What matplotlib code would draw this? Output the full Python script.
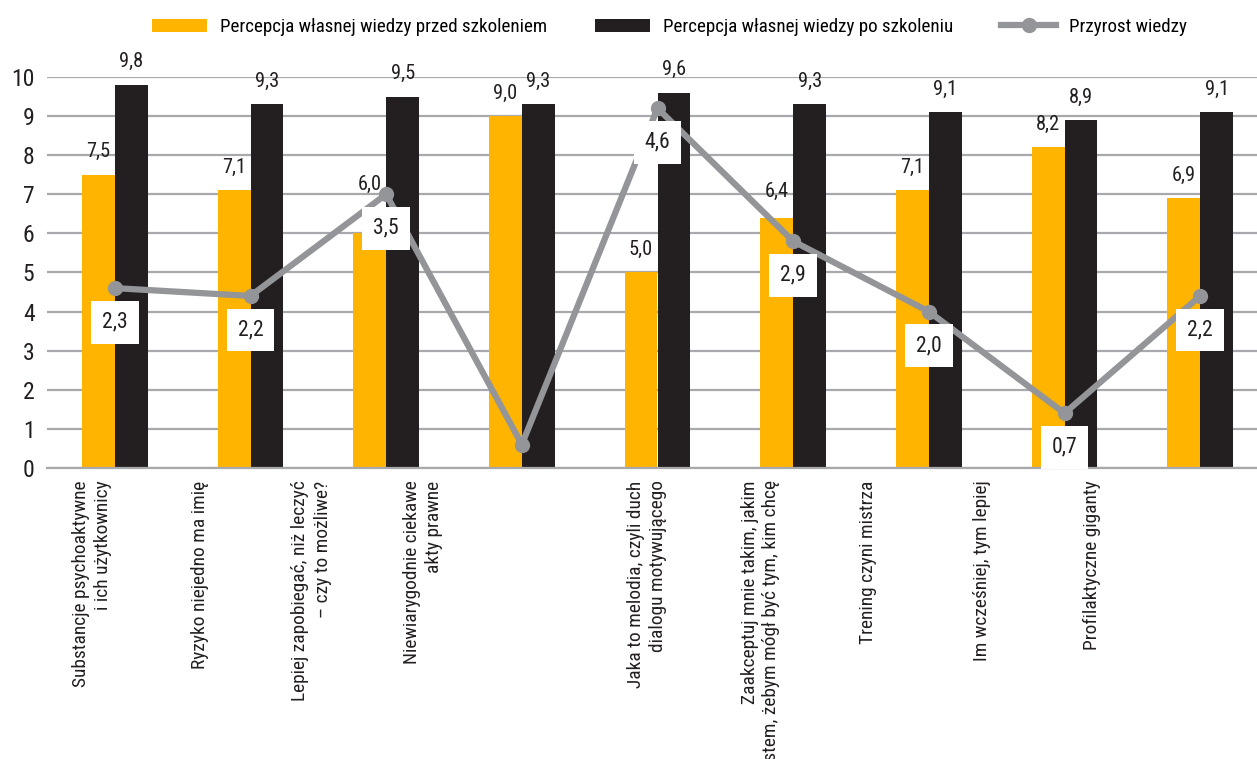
import numpy as np
import matplotlib.pyplot as plt
from matplotlib import font_manager

# pick the narrowest sans family that is installed (reference uses a condensed face)
installed = {f.name for f in font_manager.fontManager.ttflist}
family = "DejaVu Sans"
for cand in ["Liberation Sans Narrow", "Roboto Condensed", "Noto Sans Condensed",
             "Open Sans Condensed", "DejaVu Sans Condensed"]:
    if cand in installed:
        family = cand
        break
plt.rcParams['font.family'] = [family, 'DejaVu Sans']
plt.rcParams['font.stretch'] = 'condensed'

# categories (training modules)
categories = [
    "Substancje psychoaktywne\ni ich użytkownicy",
    "Ryzyko niejedno ma imię",
    "Lepiej zapobiegać, niż leczyć\n– czy to możliwe?",
    "Niewiarygodnie ciekawe\nakty prawne",
    "Jaka to melodia, czyli duch\ndialogu motywującego",
    "Zaakceptuj mnie takim, jakim\njestem, żebym mógł być tym, kim chcę",
    "Trening czyni mistrza",
    "Im wcześniej, tym lepiej",
    "Profilaktyczne giganty",
]
before = [7.5, 7.1, 6.0, 9.0, 5.0, 6.4, 7.1, 8.2, 6.9]
after = [9.8, 9.3, 9.5, 9.3, 9.6, 9.3, 9.1, 8.9, 9.1]
gain = [2.3, 2.2, 3.5, 0.3, 4.6, 2.9, 2.0, 0.7, 2.2]
# the reference leaves the gain label of the 4th module hidden
gain_label_shown = [True, True, True, False, True, True, True, True, True]

# layout tweaks
label_x = [-0.17, 0.63, 1.45, 2.27, 3.92, 4.76, 5.55, 6.39, 7.2]   # category text centres
before_extra = [0, 0, 26, 0, 0, 3, 0, 0, 0]                          # px, lifted value labels

ORANGE = "#FFB400"
BLACK = "#231F20"
GREY = "#939598"
GRID = "#A7A9AC"


def fmt(v):
    return f"{v:.1f}".replace(".", ",")


fig = plt.figure(figsize=(12.57, 7.59), dpi=100)
renderer = fig.canvas.get_renderer()


def fit(s, target_px):
    t = fig.text(0, 0, s, fontsize=10)
    w = t.get_window_extent(renderer).width
    t.remove()
    return 10 * target_px / w


s_cat = fit("Substancje psychoaktywne", 206)
s_leg = fit("Percepcja własnej wiedzy przed szkoleniem", 325)
s_tick = s_cat * 1.22
s_val = s_cat * 1.05
s_box = s_cat * 1.12

ax = fig.add_axes([47 / 1257, 0.3834, 1221 / 1257, 0.5152])

x = np.arange(len(categories))
w = 0.243
b1 = ax.bar(x - w / 2, before, w, color=ORANGE, zorder=2,
            label="Percepcja własnej wiedzy przed szkoleniem")
b2 = ax.bar(x + w / 2, after, w, color=BLACK, zorder=2,
            label="Percepcja własnej wiedzy po szkoleniu")

for rect, v, extra in zip(b1, before, before_extra):
    ax.annotate(fmt(v), (rect.get_x() + rect.get_width() / 2, v),
                xytext=(0, (23 + extra) * 0.72), textcoords="offset points",
                ha="center", va="center", fontsize=s_val, color=BLACK)
for rect, v in zip(b2, after):
    ax.annotate(fmt(v), (rect.get_x() + rect.get_width() / 2, v),
                xytext=(0, 23 * 0.72), textcoords="offset points",
                ha="center", va="center", fontsize=s_val, color=BLACK)

ax.set_xlim(-0.5, len(categories) - 0.5)
ax.set_ylim(0, 10)
ax.set_yticks(range(0, 11))
ax.yaxis.grid(True, color=GRID, linewidth=1.6, zorder=0)
ax.set_axisbelow(True)
for s in ["top", "right", "left"]:
    ax.spines[s].set_visible(False)
ax.spines["bottom"].set_color(GRID)
ax.spines["bottom"].set_linewidth(1.6)
ax.tick_params(axis="y", length=0, pad=9, labelsize=s_tick, colors=BLACK)
ax.tick_params(axis="x", length=0, pad=9)

ax.set_xticks(label_x)
ax.set_xticklabels(categories, rotation=90, ha="center", va="top",
                   multialignment="right", fontsize=s_cat, color=BLACK,
                   linespacing=1.3)

# knowledge gain on a hidden secondary scale (0-5)
ax2 = ax.twinx()
ax2.set_ylim(0, 5)
ax2.axis("off")
ln, = ax2.plot(x, gain, color=GREY, linewidth=4.5, marker="o",
               markersize=10, zorder=3, label="Przyrost wiedzy")
for xi, v, show in zip(x, gain, gain_label_shown):
    if not show:
        continue
    ax2.annotate(fmt(v), (xi, v), xytext=(0, -34 * 0.72), textcoords="offset points",
                 ha="center", va="center", fontsize=s_box, color=BLACK, zorder=5,
                 bbox=dict(boxstyle="square,pad=0.5", fc="white", ec="none"))

fs_px = s_leg * 100 / 72
fig.legend(handles=[b1, b2, ln], loc="center left", ncol=3,
           bbox_to_anchor=(152 / 1257, 1 - 27 / 759), frameon=False, fontsize=s_leg,
           borderpad=0, borderaxespad=0,
           handlelength=55 / fs_px, handleheight=0.7, handletextpad=13 / fs_px,
           columnspacing=48 / fs_px)

fig.savefig("out.png", dpi=100)
